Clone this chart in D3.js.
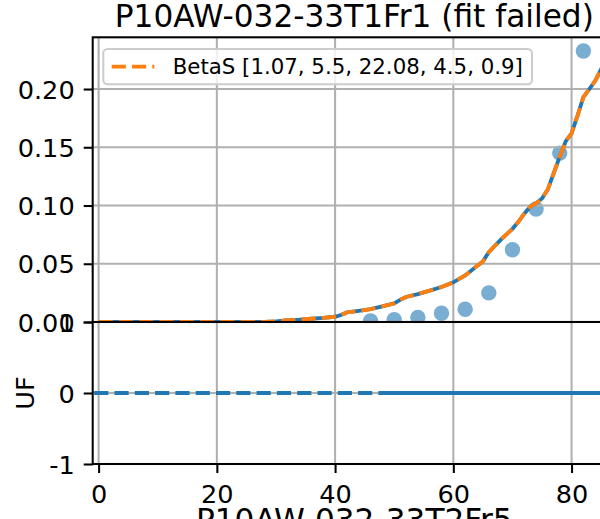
<!DOCTYPE html>
<html>
<head>
<meta charset="utf-8">
<script src="https://cdn.jsdelivr.net/npm/d3@7"></script>
<style>
  html, body { margin: 0; padding: 0; background: #fff; }
  svg { display: block; }
  text { font-family: "DejaVu Sans", sans-serif; fill: #000; }
</style>
</head>
<body>
<script>
// ---------------- data ----------------
const titleTop = "P10AW-032-33T1Fr1 (fit failed)";
const titleNext = "P10AW-032-33T2Fr5";
const legendLabel = "BetaS [1.07, 5.5, 22.08, 4.5, 0.9]";
const yLabelBottom = "UF";

const xTicks = [0, 20, 40, 60, 80];
const xTickLabels = ["0", "20", "40", "60", "80"];
const topYTicks = [0, 0.05, 0.10, 0.15, 0.20];
const topYTickLabels = ["0.00", "0.05", "0.10", "0.15", "0.20"];
const botYTicks = [-1, 0, 1];
const botYTickLabels = ["-1", "0", "1"];

// observed points (top panel)
const pointX = [46, 50, 54, 58, 62, 66, 70, 74, 78, 82];
const pointY = [0.001, 0.002, 0.004, 0.0075, 0.011, 0.025, 0.062, 0.097, 0.145, 0.2326];

// fitted curve (top panel)
const curveX = [0, 28, 30, 32, 34, 36, 38, 40, 41, 42, 44, 46, 48, 50, 51, 52, 54, 56, 58, 60, 62, 64, 65, 66, 68, 70, 71, 72, 73, 74, 75, 76, 77, 78, 79, 80, 81, 82, 83, 84, 85, 86, 88];
const curveY = [0, 0, 0.0005, 0.0015, 0.002, 0.0028, 0.0035, 0.0045, 0.006, 0.0082, 0.0095, 0.011, 0.0135, 0.016, 0.019, 0.0215, 0.024, 0.027, 0.030, 0.034, 0.040, 0.048, 0.052, 0.060, 0.0705, 0.080, 0.086, 0.093, 0.099, 0.102, 0.106, 0.114, 0.128, 0.142, 0.155, 0.162, 0.177, 0.193, 0.200, 0.207, 0.217, 0.226, 0.240];

// residual lines (bottom panel)
const residAX = [-0.75, 88];
const residAY = [0, 0];
const residBX = [49.5, 88];
const residBY = [0, 0];

// ---------------- layout ----------------
const W = 600, H = 519;
const axL = 92.7, axR = 615.9;
const topT = 37.3, topB = 322;
const botT = 322, botB = 464;
const FS = 25.6, FS_TITLE = 31.2, FS_LEG = 21.3;
const BLUE = "#1f77b4", ORANGE = "#ff7f0e", GRID = "#b0b0b0";
const LW = 3.84, GW = 2.05, SW = 2.05;
const DASH = "14.2,6.1";

const svg = d3.select("body").append("svg").attr("width", W).attr("height", H);
svg.append("rect").attr("width", W).attr("height", H).attr("fill", "#fff");

const x = d3.scaleLinear().domain([-1.0, 87.5]).range([axL, axR]);
const yTop = d3.scaleLinear().domain([0, 0.2444]).range([topB, topT]);
const yBot = d3.scaleLinear().domain([-1, 1]).range([botB, botT]);

const defs = svg.append("defs");
defs.append("clipPath").attr("id", "clipTop").append("rect")
  .attr("x", axL).attr("y", topT).attr("width", axR - axL).attr("height", topB - topT);
defs.append("clipPath").attr("id", "clipBot").append("rect")
  .attr("x", axL).attr("y", botT).attr("width", axR - axL).attr("height", botB - botT);

// ---------------- top panel ----------------
const gTop = svg.append("g");
const topData = gTop.append("g").attr("clip-path", "url(#clipTop)");

// scatter
topData.selectAll("circle").data(pointX.map((d, i) => [d, pointY[i]])).enter()
  .append("circle")
  .attr("cx", d => x(d[0])).attr("cy", d => yTop(d[1])).attr("r", 7.7)
  .attr("fill", BLUE).attr("fill-opacity", 0.6);

// grid
topData.selectAll("line.gx").data(xTicks).enter().append("line")
  .attr("x1", d => x(d)).attr("x2", d => x(d)).attr("y1", topT).attr("y2", topB)
  .attr("stroke", GRID).attr("stroke-width", GW);
topData.selectAll("line.gy").data(topYTicks).enter().append("line")
  .attr("x1", axL).attr("x2", axR).attr("y1", d => yTop(d)).attr("y2", d => yTop(d))
  .attr("stroke", GRID).attr("stroke-width", GW);

const curve = curveX.map((d, i) => [d, curveY[i]]);
const lineTop = d3.line().x(d => x(d[0])).y(d => yTop(d[1]));
topData.append("path").datum(curve).attr("d", lineTop)
  .attr("fill", "none").attr("stroke", BLUE).attr("stroke-width", LW);
topData.append("path").datum(curve).attr("d", lineTop)
  .attr("fill", "none").attr("stroke", ORANGE).attr("stroke-width", LW)
  .attr("stroke-dasharray", DASH);

// top y axis
const axTop = d3.axisLeft(yTop).tickValues(topYTicks)
  .tickFormat((d, i) => topYTickLabels[i]).tickSize(9).tickPadding(9);
const gAxTop = gTop.append("g").attr("transform", `translate(${axL},0)`).call(axTop);
gAxTop.select(".domain").remove();
gAxTop.selectAll("line").attr("stroke", "#000").attr("stroke-width", SW);
gAxTop.selectAll("text").attr("font-size", FS).attr("dy", "0.36em")
  .attr("font-family", "DejaVu Sans");

// spines top
gTop.append("rect").attr("x", axL).attr("y", topT).attr("width", axR - axL).attr("height", topB - topT)
  .attr("fill", "none").attr("stroke", "#000").attr("stroke-width", SW);

// legend
const leg = gTop.append("g");
leg.append("rect").attr("x", 103.3).attr("y", 49).attr("width", 532 - 103.3).attr("height", 84.3 - 49)
  .attr("rx", 4.3).attr("ry", 4.3)
  .attr("fill", "#fff").attr("fill-opacity", 0.8)
  .attr("stroke", "#cccccc").attr("stroke-width", SW);
leg.append("line").attr("x1", 111.7).attr("x2", 154.3).attr("y1", 66.7).attr("y2", 66.7)
  .attr("stroke", ORANGE).attr("stroke-width", LW).attr("stroke-dasharray", DASH);
leg.append("text").attr("x", 172.7).attr("y", 73.8).attr("font-size", FS_LEG).text(legendLabel);

// title
svg.append("text").attr("x", (axL + axR) / 2).attr("y", 26.5).attr("text-anchor", "middle")
  .attr("font-size", FS_TITLE).text(titleTop);

// ---------------- bottom panel ----------------
const gBot = svg.append("g");
gBot.append("rect").attr("x", axL).attr("y", botT).attr("width", axR - axL).attr("height", botB - botT)
  .attr("fill", "#fff");
const botData = gBot.append("g").attr("clip-path", "url(#clipBot)");
botData.selectAll("line.gx").data(xTicks).enter().append("line")
  .attr("x1", d => x(d)).attr("x2", d => x(d)).attr("y1", botT).attr("y2", botB)
  .attr("stroke", GRID).attr("stroke-width", GW);
botData.selectAll("line.gy").data(botYTicks).enter().append("line")
  .attr("x1", axL).attr("x2", axR).attr("y1", d => yBot(d)).attr("y2", d => yBot(d))
  .attr("stroke", GRID).attr("stroke-width", GW);

const lineBot = d3.line().x(d => x(d[0])).y(d => yBot(d[1]));
botData.append("path").datum(residAX.map((d, i) => [d, residAY[i]])).attr("d", lineBot)
  .attr("fill", "none").attr("stroke", BLUE).attr("stroke-width", LW).attr("stroke-dasharray", DASH);
botData.append("path").datum(residBX.map((d, i) => [d, residBY[i]])).attr("d", lineBot)
  .attr("fill", "none").attr("stroke", BLUE).attr("stroke-width", LW).attr("stroke-dasharray", DASH);

// bottom y axis
const axBotY = d3.axisLeft(yBot).tickValues(botYTicks)
  .tickFormat((d, i) => botYTickLabels[i]).tickSize(9).tickPadding(9);
const gAxBotY = gBot.append("g").attr("transform", `translate(${axL},0)`).call(axBotY);
gAxBotY.select(".domain").remove();
gAxBotY.selectAll("line").attr("stroke", "#000").attr("stroke-width", SW);
gAxBotY.selectAll("text").attr("font-size", FS).attr("dy", "0.36em")
  .attr("font-family", "DejaVu Sans");

// bottom x axis
const axBotX = d3.axisBottom(x).tickValues(xTicks)
  .tickFormat((d, i) => xTickLabels[i]).tickSize(9).tickPadding(11.8);
const gAxBotX = gBot.append("g").attr("transform", `translate(0,${botB})`).call(axBotX);
gAxBotX.select(".domain").remove();
gAxBotX.selectAll("line").attr("stroke", "#000").attr("stroke-width", SW);
gAxBotX.selectAll("text").attr("font-size", FS).attr("font-family", "DejaVu Sans");

// spines bottom
gBot.append("rect").attr("x", axL).attr("y", botT).attr("width", axR - axL).attr("height", botB - botT)
  .attr("fill", "none").attr("stroke", "#000").attr("stroke-width", SW);

// y label
svg.append("text").attr("transform", `translate(33.5,${(botT + botB) / 2}) rotate(-90)`)
  .attr("text-anchor", "middle").attr("font-size", FS).text(yLabelBottom);

// next panel title (partially visible)
svg.append("text").attr("x", (axL + axR) / 2).attr("y", 531).attr("text-anchor", "middle")
  .attr("font-size", FS_TITLE).text(titleNext);
</script>
</body>
</html>
